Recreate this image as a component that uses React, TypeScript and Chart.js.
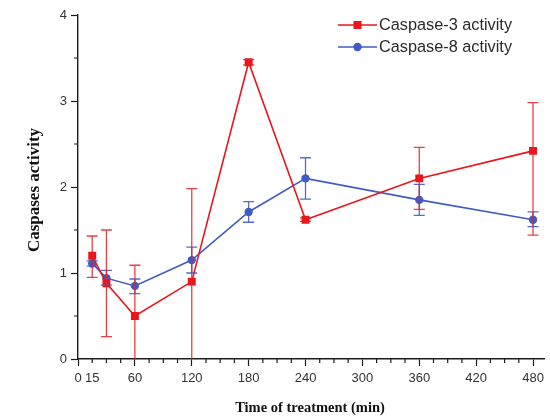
import React, { useEffect, useRef } from 'react';
import { Chart, registerables } from 'chart.js';

Chart.register(...registerables);

// ---- data ----
const timePoints = [15, 30, 60, 120, 180, 240, 360, 480];
const caspase3 = [1.2, 0.88, 0.5, 0.9, 3.45, 1.62, 2.1, 2.42];
const caspase3Upper = [1.43, 1.5, 1.09, 1.98, 3.48, 1.64, 2.46, 2.98];
const caspase3Lower = [0.95, 0.26, -0.09, -0.18, 3.42, 1.6, 1.74, 1.44];
const caspase8 = [1.11, 0.94, 0.85, 1.15, 1.71, 2.1, 1.85, 1.62];
const caspase8Upper = [1.14, 1.03, 0.93, 1.3, 1.83, 2.34, 2.03, 1.71];
const caspase8Lower = [1.08, 0.86, 0.76, 1.0, 1.59, 1.86, 1.67, 1.54];

const xTickLabels = [0, 15, 60, 120, 180, 240, 300, 360, 420, 480];
const xMinorTicks = [15, 30, 45, 75, 90, 105, 135, 150, 165, 195, 210, 225, 255, 270, 285, 315, 330, 345, 375, 390, 405, 435, 450, 465];
const yTickLabels = [0, 1, 2, 3, 4];
const yMinorTicks = [0.5, 1.5, 2.5, 3.5];

const seriesNames = ['Caspase-3 activity', 'Caspase-8 activity'];
const xTitle = 'Time of treatment (min)';
const yTitle = 'Caspases activity';

const RED = 'rgb(234, 20, 28)';
const BLUE = 'rgb(64, 92, 196)';
const AXIS = '#1c1c1c';

const overlayPlugin = {
  id: 'overlay',
  afterDatasetsDraw(chart: any) {
    const { ctx, chartArea, scales } = chart;
    const x = scales.x;
    const y = scales.y;
    const sets = [
      { upper: caspase8Upper, lower: caspase8Lower, color: 'rgba(64, 92, 196, 0.9)' },
      { upper: caspase3Upper, lower: caspase3Lower, color: 'rgba(232, 30, 36, 0.85)' },
    ];
    ctx.save();
    ctx.beginPath();
    ctx.rect(chartArea.left, chartArea.top - 6, chartArea.right - chartArea.left, chartArea.bottom - chartArea.top + 6);
    ctx.clip();
    sets.forEach((s) => {
      ctx.strokeStyle = s.color;
      ctx.lineWidth = 1.3;
      timePoints.forEach((t, i) => {
        const px = x.getPixelForValue(t);
        const pu = y.getPixelForValue(s.upper[i]);
        const pl = y.getPixelForValue(s.lower[i]);
        const half = 5.5;
        ctx.beginPath();
        ctx.moveTo(px, pu);
        ctx.lineTo(px, pl);
        ctx.moveTo(px - half, pu);
        ctx.lineTo(px + half, pu);
        ctx.moveTo(px - half, pl);
        ctx.lineTo(px + half, pl);
        ctx.stroke();
      });
    });
    ctx.restore();
  },
  afterDraw(chart: any) {
    const { ctx, chartArea, scales } = chart;
    const x = scales.x;
    const y = scales.y;
    ctx.save();
    // minor ticks
    ctx.strokeStyle = AXIS;
    ctx.lineWidth = 1.2;
    ctx.beginPath();
    xMinorTicks.forEach((v) => {
      const px = x.getPixelForValue(v);
      ctx.moveTo(px, chartArea.bottom);
      ctx.lineTo(px, chartArea.bottom + 4);
    });
    yMinorTicks.forEach((v) => {
      const py = y.getPixelForValue(v);
      ctx.moveTo(chartArea.left, py);
      ctx.lineTo(chartArea.left - 4, py);
    });
    ctx.stroke();

    // axis titles
    ctx.fillStyle = '#111';
    ctx.font = 'bold 14.5px "Liberation Serif"';
    ctx.textAlign = 'center';
    ctx.textBaseline = 'middle';
    ctx.fillText(xTitle, 310, 408);
    ctx.save();
    ctx.translate(35, 190);
    ctx.rotate(-Math.PI / 2);
    ctx.font = 'bold 17px "Liberation Serif"';
    ctx.fillText(yTitle, 0, 0);
    ctx.restore();

    // legend
    const rows = [
      { label: seriesNames[0], color: RED, style: 'rect', y: 25 },
      { label: seriesNames[1], color: BLUE, style: 'circle', y: 47 },
    ];
    rows.forEach((r) => {
      ctx.strokeStyle = r.color;
      ctx.fillStyle = r.color;
      ctx.lineWidth = 1.6;
      ctx.beginPath();
      ctx.moveTo(338, r.y);
      ctx.lineTo(377, r.y);
      ctx.stroke();
      ctx.beginPath();
      if (r.style === 'rect') {
        ctx.rect(357.5 - 4, r.y - 4, 8, 8);
      } else {
        ctx.arc(357.5, r.y, 4.2, 0, Math.PI * 2);
      }
      ctx.fill();
      ctx.fillStyle = '#2a2a2a';
      ctx.font = '16.3px "Liberation Sans"';
      ctx.textAlign = 'left';
      ctx.textBaseline = 'middle';
      ctx.fillText(r.label, 379, r.y + 0.5);
    });
    ctx.restore();
  },
};

export default function App() {
  const canvasRef = useRef<HTMLCanvasElement | null>(null);

  useEffect(() => {
    if (!canvasRef.current) return;
    const tickFont = { family: '"Liberation Sans", Arial, sans-serif', size: 13 };
    const chart = new Chart(canvasRef.current, {
      type: 'line',
      data: {
        datasets: [
          {
            label: seriesNames[0],
            data: timePoints.map((t, i) => ({ x: t, y: caspase3[i] })),
            borderColor: RED,
            backgroundColor: RED,
            borderWidth: 1.6,
            pointStyle: 'rect',
            pointRadius: 5.6,
            pointBorderWidth: 0,
            pointBackgroundColor: RED,
            tension: 0,
          },
          {
            label: seriesNames[1],
            data: timePoints.map((t, i) => ({ x: t, y: caspase8[i] })),
            borderColor: BLUE,
            backgroundColor: BLUE,
            borderWidth: 1.6,
            pointStyle: 'circle',
            pointRadius: 4.2,
            pointBorderWidth: 0,
            pointBackgroundColor: BLUE,
            tension: 0,
          },
        ],
      },
      options: {
        animation: false,
        responsive: false,
        maintainAspectRatio: false,
        layout: { padding: { top: 15, right: 3, left: 0, bottom: 0 } },
        plugins: {
          legend: { display: false },
          tooltip: { enabled: false },
          title: { display: false },
        },
        scales: {
          x: {
            type: 'linear',
            min: 0,
            max: 492,
            afterBuildTicks: (s: any) => {
              s.ticks = xTickLabels.map((v) => ({ value: v }));
            },
            afterFit: (s: any) => {
              s.height = 59;
            },
            ticks: {
              autoSkip: false,
              maxRotation: 0,
              minRotation: 0,
              padding: 5,
              color: '#333',
              font: tickFont,
              callback: (v: any) => String(v),
            },
            grid: {
              drawOnChartArea: false,
              drawTicks: true,
              tickLength: 7,
              tickWidth: 1.2,
              tickColor: (c: any) => (c.tick && c.tick.value === 15 ? 'rgba(0,0,0,0)' : AXIS),
            },
            border: { display: true, color: AXIS, width: 1.4 },
          },
          y: {
            type: 'linear',
            min: 0,
            max: 4,
            afterBuildTicks: (s: any) => {
              s.ticks = yTickLabels.map((v) => ({ value: v }));
            },
            afterFit: (s: any) => {
              s.width = 78;
            },
            ticks: {
              padding: 4,
              color: '#333',
              font: tickFont,
              callback: (v: any) => String(v),
            },
            grid: {
              drawOnChartArea: false,
              drawTicks: true,
              tickLength: 7,
              tickWidth: 1.2,
              tickColor: AXIS,
            },
            border: { display: true, color: AXIS, width: 1.4 },
          },
        },
      },
      plugins: [overlayPlugin],
    } as any);
    return () => chart.destroy();
  }, []);

  return (
    <div style={{ position: 'absolute', left: 0, top: 0, width: 550, height: 418, background: '#fff' }}>
      <canvas ref={canvasRef} width={550} height={418} style={{ display: 'block', width: 550, height: 418 }} />
    </div>
  );
}
